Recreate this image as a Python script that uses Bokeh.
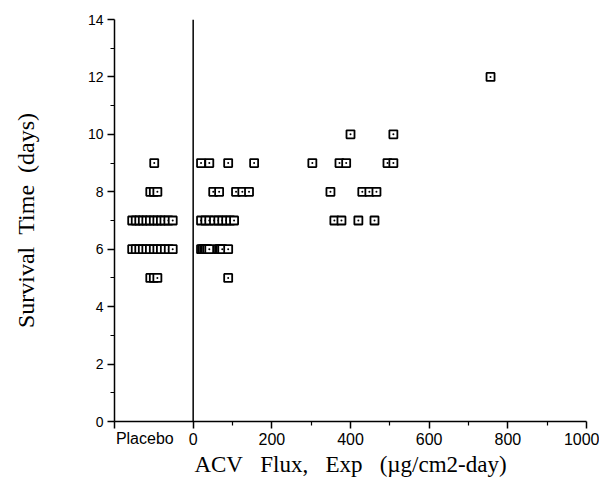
from bokeh.plotting import figure
from bokeh.models import Range1d, FixedTicker, Span, LinearAxis
from bokeh.embed import file_html
from bokeh.resources import INLINE

# Placebo group (plotted left of zero)
placebo_x = [-99,
             -109, -100, -91,
             -155, -146, -137, -128, -119, -110, -100, -91, -82, -73, -63, -52,
             -155, -146, -137, -128, -119, -110, -100, -91, -82, -72, -62, -52,
             -109, -100, -91]
placebo_y = [9,
             8, 8, 8,
             7, 7, 7, 7, 7, 7, 7, 7, 7, 7, 7, 7,
             6, 6, 6, 6, 6, 6, 6, 6, 6, 6, 6, 6,
             5, 5, 5]

# Experimental group: ACV flux (ug/cm2-day) vs survival time (days)
flux_x = [756,
          400, 509,
          20, 41, 89, 155, 303, 372, 389, 494, 509,
          51, 66, 109, 125, 142, 349, 430, 448, 466,
          20, 31, 41, 53, 64, 74, 84, 94, 104, 359, 377, 420, 461,
          20, 24, 28, 32, 36, 41, 62, 66, 70, 74, 89,
          89]
flux_y = [12,
          10, 10,
          9, 9, 9, 9, 9, 9, 9, 9, 9,
          8, 8, 8, 8, 8, 8, 8, 8, 8,
          7, 7, 7, 7, 7, 7, 7, 7, 7, 7, 7, 7, 7,
          6, 6, 6, 6, 6, 6, 6, 6, 6, 6, 6,
          5]

x_major = [-200, 0, 200, 400, 600, 800, 1000]
x_minor = [100, 300, 500, 700, 900]
x_labels = {-200: "", 0: "0", 200: "200", 400: "400", 600: "600", 800: "800", 1000: "1000"}
placebo_tick = [-123]
placebo_label = {-123: "Placebo"}
y_major = [0, 2, 4, 6, 8, 10, 12, 14]
y_minor = [1, 3, 5, 7, 9, 11, 13]

NB = "\u00a0"
GAP = NB * 3
YGAP = NB * 2

p = figure(width=599, height=486, output_backend="svg", toolbar_location=None,
           x_range=Range1d(-200, 1000), y_range=Range1d(0, 14),
           min_border_left=114, min_border_right=13, min_border_top=19, min_border_bottom=65)
p.outline_line_color = None
p.grid.visible = False
p.background_fill_color = "white"

p.xaxis.ticker = FixedTicker(ticks=x_major, minor_ticks=x_minor)
p.xaxis.major_label_overrides = x_labels
p.yaxis.ticker = FixedTicker(ticks=y_major, minor_ticks=y_minor)

for ax in (p.xaxis, p.yaxis):
    ax.axis_line_color = "black"
    ax.axis_line_width = 1.5
    ax.major_tick_line_color = "black"
    ax.major_tick_line_width = 1.5
    ax.minor_tick_line_color = "black"
    ax.minor_tick_line_width = 1.2
    ax.major_tick_in = 0
    ax.major_tick_out = 7
    ax.minor_tick_in = 0
    ax.minor_tick_out = 4
    ax.major_label_text_font = "Liberation Sans"
    ax.major_label_text_color = "black"

p.xaxis.major_label_text_font_size = "16px"
p.yaxis.major_label_text_font_size = "14px"
p.xaxis.major_label_standoff = 4
p.yaxis.major_label_standoff = 4

p.yaxis.axis_label = "Survival" + YGAP + "Time" + YGAP + "(days)"
p.yaxis.axis_label_text_font = "Liberation Serif"
p.yaxis.axis_label_text_font_style = "normal"
p.yaxis.axis_label_text_font_size = "24px"
p.yaxis.axis_label_text_color = "black"
p.yaxis.axis_label_standoff = 46

# second bottom axis: carries the left-aligned "Placebo" label and the axis title
ax2 = LinearAxis(ticker=FixedTicker(ticks=placebo_tick, minor_ticks=[]),
                 major_label_overrides=placebo_label,
                 axis_line_color=None, major_tick_line_color=None, minor_tick_line_color=None,
                 major_label_text_font="Liberation Sans", major_label_text_font_size="16px",
                 major_label_text_color="black", major_label_standoff=-24,
                 axis_label="ACV" + GAP + "Flux," + GAP + "Exp" + GAP + "(\u00b5g/cm2-day)",
                 axis_label_text_font="Liberation Serif", axis_label_text_font_style="normal",
                 axis_label_text_font_size="23px", axis_label_text_color="black",
                 axis_label_standoff=2)
p.add_layout(ax2, "below")

p.add_layout(Span(location=0, dimension="height", line_color="black", line_width=1.5))

p.scatter(placebo_x, placebo_y, marker="square_dot", size=8, line_width=1.8,
          line_color="black", fill_color="white")
p.scatter(flux_x, flux_y, marker="square_dot", size=8, line_width=1.8,
          line_color="black", fill_color="white")

open("out.html", "w").write(file_html(p, INLINE))
